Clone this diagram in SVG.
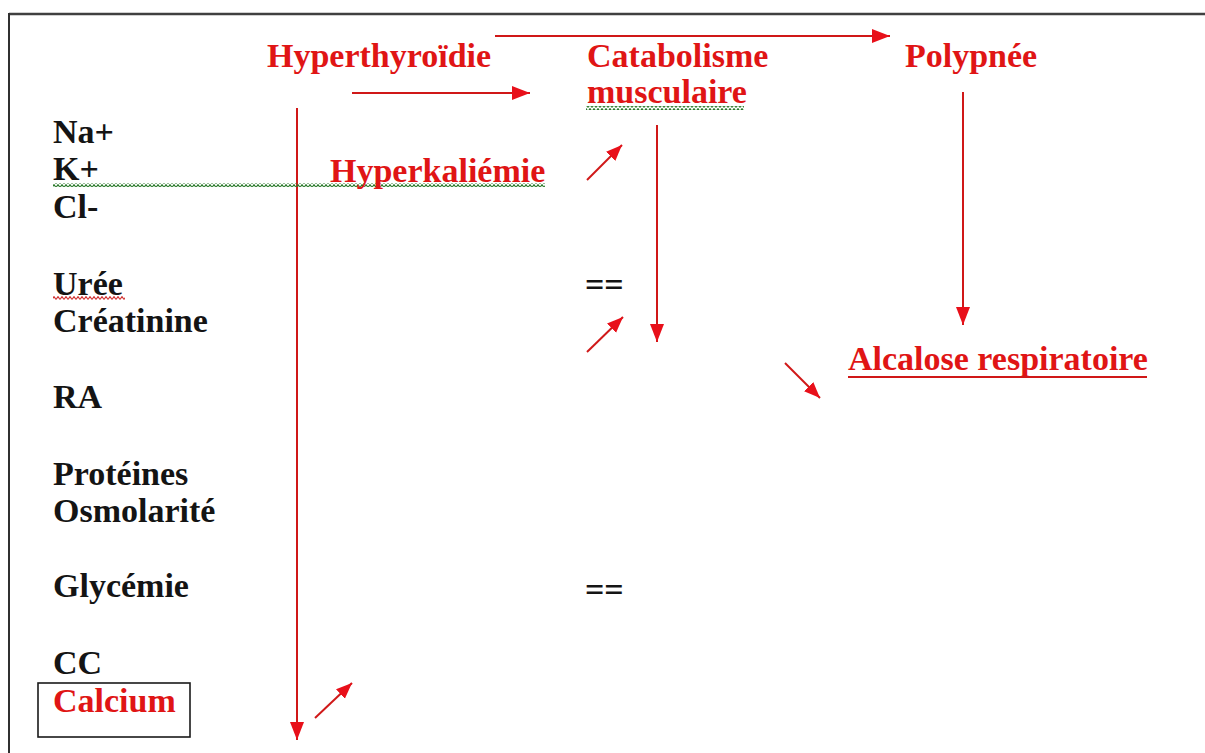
<svg xmlns="http://www.w3.org/2000/svg" width="1205" height="753" viewBox="0 0 1205 753">
<style>
.t{font-family:"Liberation Serif","Times New Roman",serif;font-weight:bold;font-size:34px;fill:#141414}
.r{fill:#e01515}
.ln{stroke:#d01818;stroke-width:2;fill:none}
</style>
<defs>
<marker id="ah" markerUnits="userSpaceOnUse" markerWidth="20" markerHeight="16" refX="18" refY="7" orient="auto">
<path d="M0,0 L18,7 L0,14 Z" fill="#e8101a"/>
</marker>
<marker id="as" markerUnits="userSpaceOnUse" markerWidth="18" markerHeight="14" refX="16" refY="6.5" orient="auto">
<path d="M0,0 L16,6.5 L0,13 Z" fill="#e8101a"/>
</marker>
<pattern id="wg" width="4" height="4" patternUnits="userSpaceOnUse">
<path d="M0,3.4 L2,0.6 L4,3.4" stroke="#2a7a2a" stroke-width="1.1" fill="none"/>
</pattern>
<pattern id="wr" width="4" height="4" patternUnits="userSpaceOnUse">
<path d="M0,3.4 L2,0.6 L4,3.4" stroke="#d03030" stroke-width="1.1" fill="none"/>
</pattern>
</defs>
<rect width="1205" height="753" fill="#fff"/>
<g id="frame">
<line x1="9" y1="14" x2="1205" y2="14" stroke="#404040" stroke-width="2.5"/>
<line x1="9" y1="13" x2="9" y2="753" stroke="#303030" stroke-width="2"/>
</g>
<g id="connectors">
<line class="ln" x1="495" y1="36" x2="890" y2="36" marker-end="url(#ah)"/>
<line class="ln" x1="352" y1="93" x2="530" y2="93" marker-end="url(#ah)"/>
<line class="ln" x1="297" y1="108" x2="297" y2="740" marker-end="url(#ah)"/>
<line class="ln" x1="657" y1="125" x2="657" y2="342" marker-end="url(#ah)"/>
<line class="ln" x1="963" y1="92" x2="963" y2="325" marker-end="url(#ah)"/>
<line class="ln" x1="587" y1="180" x2="622" y2="145" marker-end="url(#as)"/>
<line class="ln" x1="587" y1="352" x2="623" y2="317" marker-end="url(#as)"/>
<line class="ln" x1="785" y1="363" x2="820" y2="398" marker-end="url(#as)"/>
<line class="ln" x1="315" y1="718" x2="352" y2="683" marker-end="url(#as)"/>
</g>
<g id="squiggles">
<rect x="53" y="183" width="492" height="4" fill="url(#wg)"/>
<rect x="586" y="106" width="158" height="4" fill="url(#wg)"/>
<rect x="53" y="296" width="72" height="4" fill="url(#wr)"/>
</g>
<g id="hyperthyroidie"><text class="t r" x="267" y="67">Hyperthyroïdie</text></g>
<g id="catabolisme"><text class="t r" x="587" y="67">Catabolisme</text><text class="t r" x="587" y="103">musculaire</text></g>
<g id="polypnee"><text class="t r" x="905" y="67">Polypnée</text></g>
<g id="hyperkaliemie"><text class="t r" x="330" y="182">Hyperkaliémie</text></g>
<g id="alcalose"><text class="t r" x="848" y="370">Alcalose respiratoire</text>
<line x1="848" y1="377" x2="1147" y2="377" stroke="#d01818" stroke-width="2"/></g>
<g id="eq1"><text class="t" x="585" y="296">==</text></g>
<g id="eq2"><text class="t" x="585" y="601">==</text></g>
<g id="left-column">
<text class="t" x="53" y="143">Na+</text>
<text class="t" x="53" y="180">K+</text>
<text class="t" x="53" y="218">Cl-</text>
<text class="t" x="53" y="295">Urée</text>
<text class="t" x="53" y="332">Créatinine</text>
<text class="t" x="53" y="408">RA</text>
<text class="t" x="53" y="485">Protéines</text>
<text class="t" x="53" y="522">Osmolarité</text>
<text class="t" x="53" y="597">Glycémie</text>
<text class="t" x="53" y="674">CC</text>
</g>
<g id="calcium">
<rect x="38" y="683" width="152" height="54" fill="none" stroke="#1a1a1a" stroke-width="1.6"/>
<text class="t r" x="53" y="712">Calcium</text>
</g>
</svg>
